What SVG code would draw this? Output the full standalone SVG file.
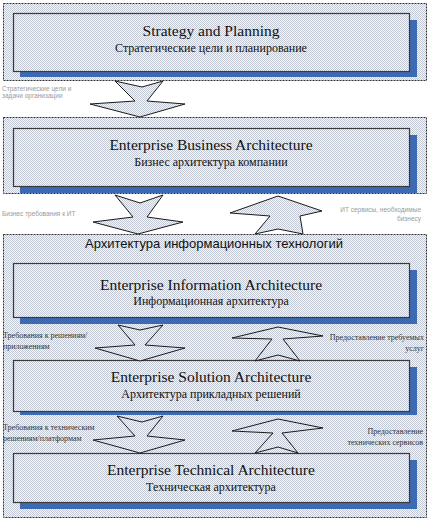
<svg xmlns="http://www.w3.org/2000/svg" width="430" height="524" viewBox="0 0 430 524">
<defs>
<pattern id="hatch" width="2" height="2" patternUnits="userSpaceOnUse">
<rect width="2" height="2" fill="#f7f7f9"/>
<rect width="1" height="1" fill="#c2c8d4"/>
<rect x="1" y="1" width="1" height="1" fill="#c2c8d4"/>
</pattern>
<style>
.frame{fill:url(#hatch);stroke:#333;stroke-width:1;stroke-dasharray:2 1}
.shadow{fill:#3d6bb3}
.box{fill:url(#hatch);stroke:#3a3a3a;stroke-width:1.2}
.t1{font-family:"Liberation Serif","Times New Roman",serif;font-size:15.5px;fill:#111;text-anchor:middle}
.t2{font-family:"Liberation Serif","Times New Roman",serif;font-size:12px;fill:#111;text-anchor:middle}
.arrow{fill:url(#hatch);stroke:#1a1a1a;stroke-width:1}
.lblf{font-family:"Liberation Sans",Arial,sans-serif;font-size:6.5px;fill:#9a9a9a}
.lbl{font-family:"Liberation Serif","Times New Roman",serif;font-size:8px;fill:#333}
.hdr{font-family:"Liberation Sans",Arial,sans-serif;font-size:13px;fill:#111;text-anchor:middle}
</style>
</defs>
<rect width="430" height="524" fill="#ffffff"/>

<g id="frame-strategy">
<rect class="frame" x="3.5" y="3.5" width="423" height="77"/>
</g>
<g id="frame-business">
<rect class="frame" x="3.5" y="117.5" width="423" height="76"/>
</g>
<g id="frame-it">
<rect class="frame" x="3.5" y="234.5" width="423" height="283"/>
<text class="hdr" x="214" y="248">Архитектура информационных технологий</text>
</g>

<g id="node-strategy">
<rect class="shadow" x="20" y="20" width="397" height="57"/>
<rect class="box" x="13.5" y="13.5" width="396" height="58"/>
<text class="t1" x="211" y="36">Strategy and Planning</text>
<text class="t2" x="211" y="52">Стратегические цели и планирование</text>
</g>

<g id="node-business">
<rect class="shadow" x="20" y="135" width="397" height="58"/>
<rect class="box" x="13.5" y="128.5" width="396" height="58"/>
<text class="t1" x="211" y="150">Enterprise Business Architecture</text>
<text class="t2" x="211" y="166">Бизнес архитектура компании</text>
</g>

<g id="node-information">
<rect class="shadow" x="20" y="270" width="397" height="54"/>
<rect class="box" x="13.5" y="263.5" width="396" height="54"/>
<text class="t1" x="211" y="290">Enterprise Information Architecture</text>
<text class="t2" x="211" y="305">Информационная архитектура</text>
</g>

<g id="node-solution">
<rect class="shadow" x="20" y="367" width="397" height="48"/>
<rect class="box" x="13.5" y="360.5" width="396" height="51"/>
<text class="t1" x="211" y="382">Enterprise Solution Architecture</text>
<text class="t2" x="211" y="398">Архитектура прикладных решений</text>
</g>

<g id="node-technical">
<rect class="shadow" x="20" y="460" width="397" height="49"/>
<rect class="box" x="13.5" y="453.5" width="396" height="49"/>
<text class="t1" x="211" y="475">Enterprise Technical Architecture</text>
<text class="t2" x="211" y="491">Техническая архитектура</text>
</g>

<g id="connectors">
<polygon class="arrow" points="115,81 142,87 163,81 147,101 185,104 140,117 90,104 135,101"/>
<text class="lblf" x="2" y="91">Стратегические цели и</text>
<text class="lblf" x="2" y="98">задачи организации</text>

<polygon class="arrow" points="115,195 140,203 163,195 147,217 183,222 138,234 93,222 133,217"/>
<text class="lblf" x="2" y="216">Бизнес требования к ИТ</text>

<polygon class="arrow" points="278,196 322,211 300,216 303,234 278,229 255,234 270,216 230,213"/>
<text class="lblf" x="421" y="212" text-anchor="end">ИТ сервисы, необходимые</text>
<text class="lblf" x="421" y="221" text-anchor="end">бизнесу</text>

<polygon class="arrow" points="118,325 140,330 163,325 145,345 185,348 140,361 95,348 135,345"/>
<text class="lbl" x="3" y="338">Требования к решениям/</text>
<text class="lbl" x="3" y="349">приложениям</text>

<polygon class="arrow" points="278,327 323,336 283,339 300,361 278,355 255,361 272,339 232,338"/>
<text class="lbl" x="424" y="340" text-anchor="end">Предоставление требуемых</text>
<text class="lbl" x="424" y="351" text-anchor="end">услуг</text>

<polygon class="arrow" points="117,416 142,422 163,416 147,436 185,440 140,453 93,440 135,436"/>
<text class="lbl" x="3" y="430">Требования к техническим</text>
<text class="lbl" x="3" y="441">решениям/платформам</text>

<polygon class="arrow" points="278,419 323,428 282,433 298,453 278,447 255,453 273,433 232,431"/>
<text class="lbl" x="423" y="434" text-anchor="end">Предоставление</text>
<text class="lbl" x="423" y="445" text-anchor="end">технических сервисов</text>
</g>
</svg>
